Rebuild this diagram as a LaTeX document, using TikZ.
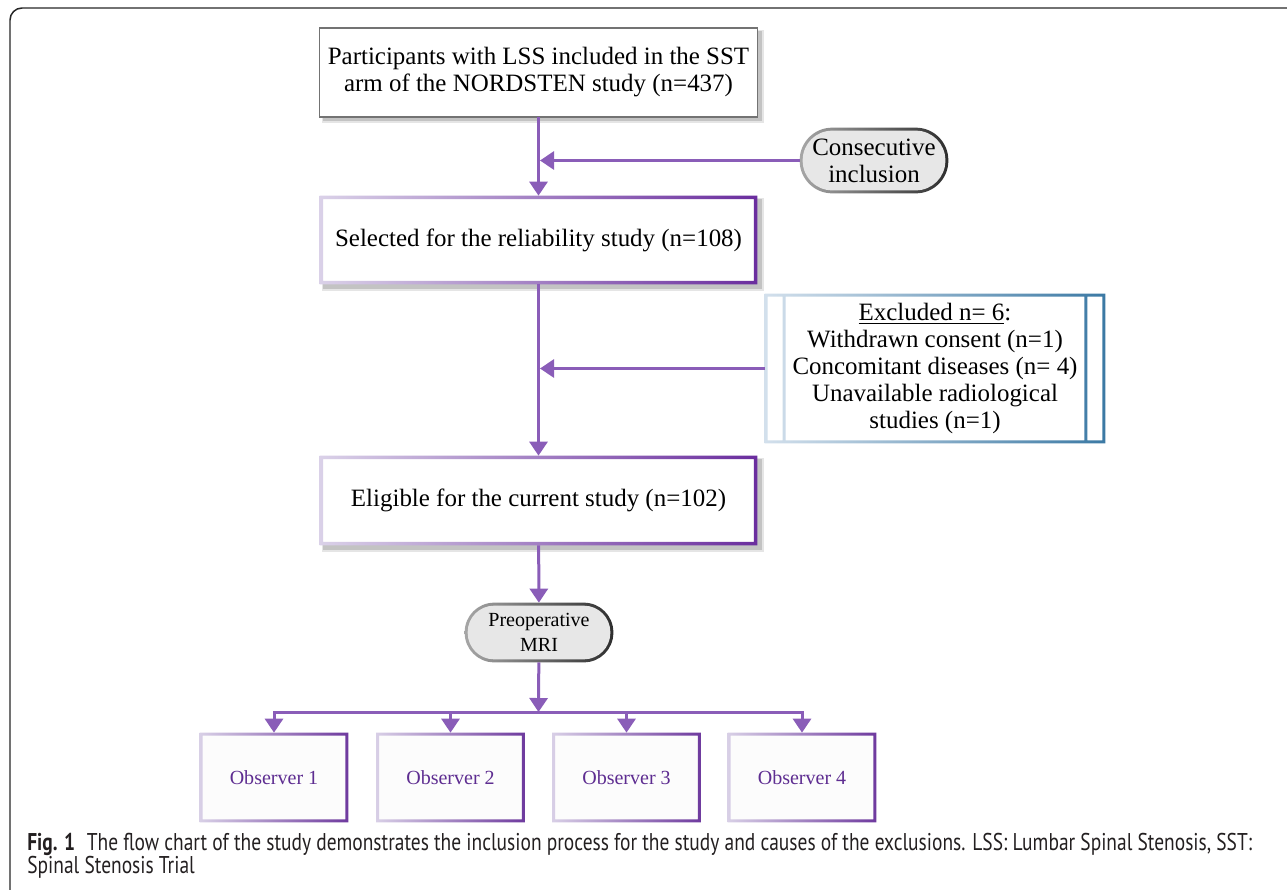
\documentclass[tikz,border=0pt]{standalone}
\usepackage{fontspec}
\setmainfont{Liberation Serif}
\newfontfamily\capfont{PT Sans}
\usetikzlibrary{arrows.meta,backgrounds,calc}
\definecolor{arr}{HTML}{8A5DB8}
\definecolor{bL}{HTML}{DAD1E8}
\definecolor{bR}{HTML}{6A2D9E}
\definecolor{oL}{HTML}{D8CFE6}
\definecolor{oR}{HTML}{6E3A9E}
\definecolor{otext}{HTML}{5E2D91}
\definecolor{eL}{HTML}{D3E0EC}
\definecolor{eR}{HTML}{3B79A4}
\definecolor{pL}{HTML}{A6A6A6}
\definecolor{pR}{HTML}{2E2E2E}
\definecolor{pfill}{HTML}{E7E7E7}
\definecolor{captext}{HTML}{231F20}
\newsavebox\capone
\newcommand\gbox[4]{%
  \fill[black,opacity=0.10] ($(#1.south west)+(0.04cm,-0.13cm)$) rectangle ($(#1.north east)+(0.13cm,-0.04cm)$);
  \fill[black,opacity=0.15] ($(#1.south west)+(0.06cm,-0.09cm)$) rectangle ($(#1.north east)+(0.09cm,-0.06cm)$);
  \fill[white] (#1.south west) rectangle (#1.north east);
  \shade[left color=#2,right color=#3,even odd rule] (#1.south west) rectangle (#1.north east)
     ($(#1.south west)+(#4,#4)$) rectangle ($(#1.north east)-(#4,#4)$);}
\newcommand\obox[1]{%
  \fill[white!98!gray] (#1.south west) rectangle (#1.north east);
  \shade[left color=oL,right color=oR,even odd rule] (#1.south west) rectangle (#1.north east)
     ($(#1.south west)+(0.06cm,0.06cm)$) rectangle ($(#1.north east)-(0.06cm,0.06cm)$);}
\newcommand\pill[3]{%
  \shade[left color=pL,right color=pR,rounded corners=#2] (#1.south west) rectangle (#1.north east);
  \fill[pfill,rounded corners=#3] ($(#1.south west)+(0.06cm,0.06cm)$) rectangle ($(#1.north east)-(0.06cm,0.06cm)$);}
\newcommand\capA{\textbf{Fig. 1}\hspace{0.6em}The flow chart of the study demonstrates the inclusion process for the study and causes of the exclusions. LSS: Lumbar Spinal Stenosis, SST:}
\begin{document}
\begin{tikzpicture}[x=0.02cm,y=-0.02cm,
  big/.style={font=\fontsize{14.2}{15.4}\selectfont, align=center, inner sep=0pt, text=black},
  small/.style={font=\fontsize{11.4}{14.2}\selectfont, align=center, inner sep=0pt},
  mainbox/.style={big, rectangle, minimum width=8.74cm, minimum height=1.76cm},
  obsbox/.style={small, rectangle, minimum width=2.96cm, minimum height=1.78cm, text=otext},
  pillnode/.style={rectangle, minimum width=2.96cm},
  captxt/.style={anchor=base west, inner sep=0pt, text=captext},
  conn/.style={draw=arr, line width=0.06cm},
  arrow/.style={conn, -{Triangle[width=0.36cm,length=0.28cm]}}]
\useasboundingbox (0,0) rectangle (1287,889);
\clip (0,0) rectangle (1287,889);
% frame
\draw[line width=0.03cm, black!85, rounded corners=0.24cm] (1320,8) -- (10,8) -- (10,920);

% nodes
\node[mainbox] (b1) at (538.5,72.5) {Participants with LSS included in the SST\\arm of the NORDSTEN study (n=437)};
\node[mainbox] (b2) at (538.5,240) {Selected for the reliability study (n=108)};
\node[mainbox, minimum height=1.78cm] (b3) at (538.5,500.5) {Eligible for the current study (n=102)};
\node[big, pillnode, minimum height=1.3cm] (cons) at (874,160.5) {Consecutive\\inclusion};
\node[big, rectangle, minimum width=6.8cm, minimum height=2.98cm] (ex) at (935,368.5)
  {\underline{Excluded n= 6}:\\Withdrawn consent (n=1)\\Concomitant diseases (n= 4)\\Unavailable radiological\\studies (n=1)};
\node[small, pillnode, minimum height=1.18cm] (pre) at (539,632.5) {Preoperative\\MRI};
\node[obsbox] (o1) at (274,777.5) {Observer 1};
\node[obsbox] (o2) at (450.5,777.5) {Observer 2};
\node[obsbox] (o3) at (626.5,777.5) {Observer 3};
\node[obsbox] (o4) at (802,777.5) {Observer 4};
\coordinate (bus) at (538.5,712);

% backgrounds
\begin{scope}[on background layer]
  \fill[black,opacity=0.10] ($(b1.south west)+(0.04cm,-0.13cm)$) rectangle ($(b1.north east)+(0.13cm,-0.04cm)$);
  \fill[black,opacity=0.15] ($(b1.south west)+(0.06cm,-0.09cm)$) rectangle ($(b1.north east)+(0.09cm,-0.06cm)$);
  \fill[white] (b1.south west) rectangle (b1.north east);
  \draw[line width=0.03cm, black!55] (b1.south west) rectangle (b1.north east);
  \gbox{b2}{bL}{bR}{0.07cm}
  \gbox{b3}{bL}{bR}{0.07cm}
  \pill{cons}{0.65cm}{0.59cm}
  \pill{pre}{0.59cm}{0.53cm}
  \fill[white] (ex.south west) rectangle (ex.north east);
  \shade[left color=eL,right color=eR,even odd rule] (ex.south west) rectangle (ex.north east)
     ($(ex.south west)+(0.06cm,0.06cm)$) rectangle ($(ex.north east)-(0.06cm,0.06cm)$)
     ($(ex.south west)+(0.36cm,0.06cm)$) rectangle ($(ex.north west)+(0.42cm,-0.06cm)$)
     ($(ex.south east)+(-0.42cm,0.06cm)$) rectangle ($(ex.north east)+(-0.36cm,-0.06cm)$);
  \obox{o1}\obox{o2}\obox{o3}\obox{o4}
\end{scope}

% connectors
\draw[arrow] (b1) -- (b2);
\draw[arrow, shorten >=0.03cm] (cons.west) -- (cons.west -| b1.south);
\draw[arrow] (b2) -- (b3);
\draw[arrow, shorten >=0.03cm] (ex.west) -- (ex.west -| b2.south);
\draw[arrow] (b3) -- (pre);
\draw[arrow] (pre) -- (bus);
\draw[conn, line cap=rect] (o1.north |- bus) -- (o4.north |- bus);
\draw[arrow] (o1.north |- bus) -- (o1.north);
\draw[arrow] (o2.north |- bus) -- (o2.north);
\draw[arrow] (o3.north |- bus) -- (o3.north);
\draw[arrow] (o4.north |- bus) -- (o4.north);

% caption
\node[captxt] (cap1) at (27,850) {\capfont\fontsize{13.8}{13.8}\selectfont
  \sbox\capone{\capA}\pgfmathsetmacro\capscale{697.09/\wd\capone}\xdef\capscaleG{\capscale}%
  \scalebox{\capscale}[1]{\usebox\capone}};
\node[captxt] (cap2) at (27,873) {\capfont\fontsize{13.8}{13.8}\selectfont
  \scalebox{\capscaleG}[1]{Spinal Stenosis Trial}};
\end{tikzpicture}
\end{document}
